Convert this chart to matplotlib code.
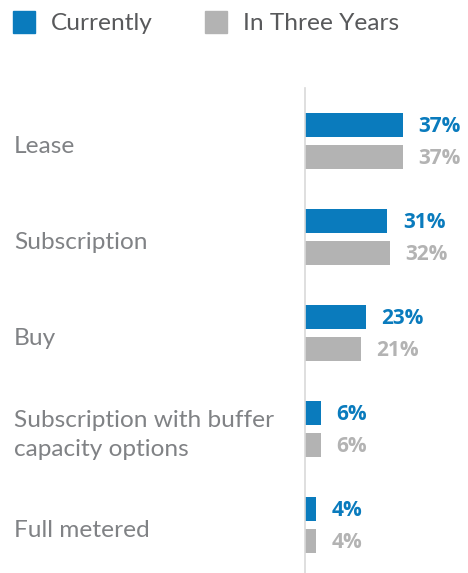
import matplotlib
matplotlib.use('Agg')
import matplotlib.pyplot as plt
import matplotlib.transforms as mtransforms
from matplotlib.patches import Rectangle
import numpy as np

plt.rcParams['font.family'] = ['Lato', 'DejaVu Sans']

# ---- data ----
categories = ['Lease', 'Subscription', 'Buy',
              'Subscription with buffer\ncapacity options', 'Full metered']
currently = [37, 31, 23, 6, 4]
three_years = [37, 32, 21, 6, 4]
series_names = ['Currently', 'In Three Years']

BLUE = '#0a7bbd'
GRAY = '#b3b3b3'
LEGEND_TEXT = '#58595b'
CAT_TEXT = '#808285'

W, H = 468, 573
fig = plt.figure(figsize=(W / 100, H / 100), dpi=100)

# axes: starts at the vertical line, spans down to the bottom
ax_left, ax_top, ax_bottom = 305, 88, 573
ax = fig.add_axes([ax_left / W, 1 - ax_bottom / H, (W - ax_left) / W,
                   (ax_bottom - ax_top) / H])
px_per_pct = 2.65
ax.set_xlim(0, (W - ax_left) / px_per_pct)
ax.set_ylim(4.5, -0.552)

y = np.arange(len(categories))
off = 16 / 96
bh = 24 / 96
ax.barh(y - off, currently, height=bh, color=BLUE)
ax.barh(y + off, three_years, height=bh, color=GRAY)

vfont = ['Open Sans', 'DejaVu Sans']
for yi, v in zip(y, currently):
    ax.text(v + 5.9, yi - off + 0.02, f'{v}%', va='center', ha='left',
            color=BLUE, fontsize=15, fontweight='bold', family=vfont)
for yi, v in zip(y, three_years):
    ax.text(v + 5.9, yi + off + 0.02, f'{v}%', va='center', ha='left',
            color=GRAY, fontsize=15, fontweight='bold', family=vfont)

for s in ['top', 'right', 'bottom']:
    ax.spines[s].set_visible(False)
ax.spines['left'].set_color('#d9d9d9')
ax.spines['left'].set_linewidth(1.2)
ax.set_xticks([])
ax.set_yticks([])

# category labels on the left
trans = mtransforms.blended_transform_factory(fig.transFigure, ax.transData)
for yi, c in zip(y, categories):
    ax.text(14 / W, yi + 0.06, c, transform=trans, ha='left', va='center',
            color=CAT_TEXT, fontsize=17.6, linespacing=1.5, clip_on=False)

# legend
for x0, col, name in [(13, BLUE, series_names[0]), (205, GRAY, series_names[1])]:
    fig.patches.append(Rectangle((x0 / W, 1 - 33 / H), 22 / W, 22 / H,
                                 transform=fig.transFigure, color=col))
    fig.text((x0 + 38) / W, 1 - 24 / H, name, ha='left', va='center',
             color=LEGEND_TEXT, fontsize=17.6)

fig.savefig('out.png', dpi=100)
